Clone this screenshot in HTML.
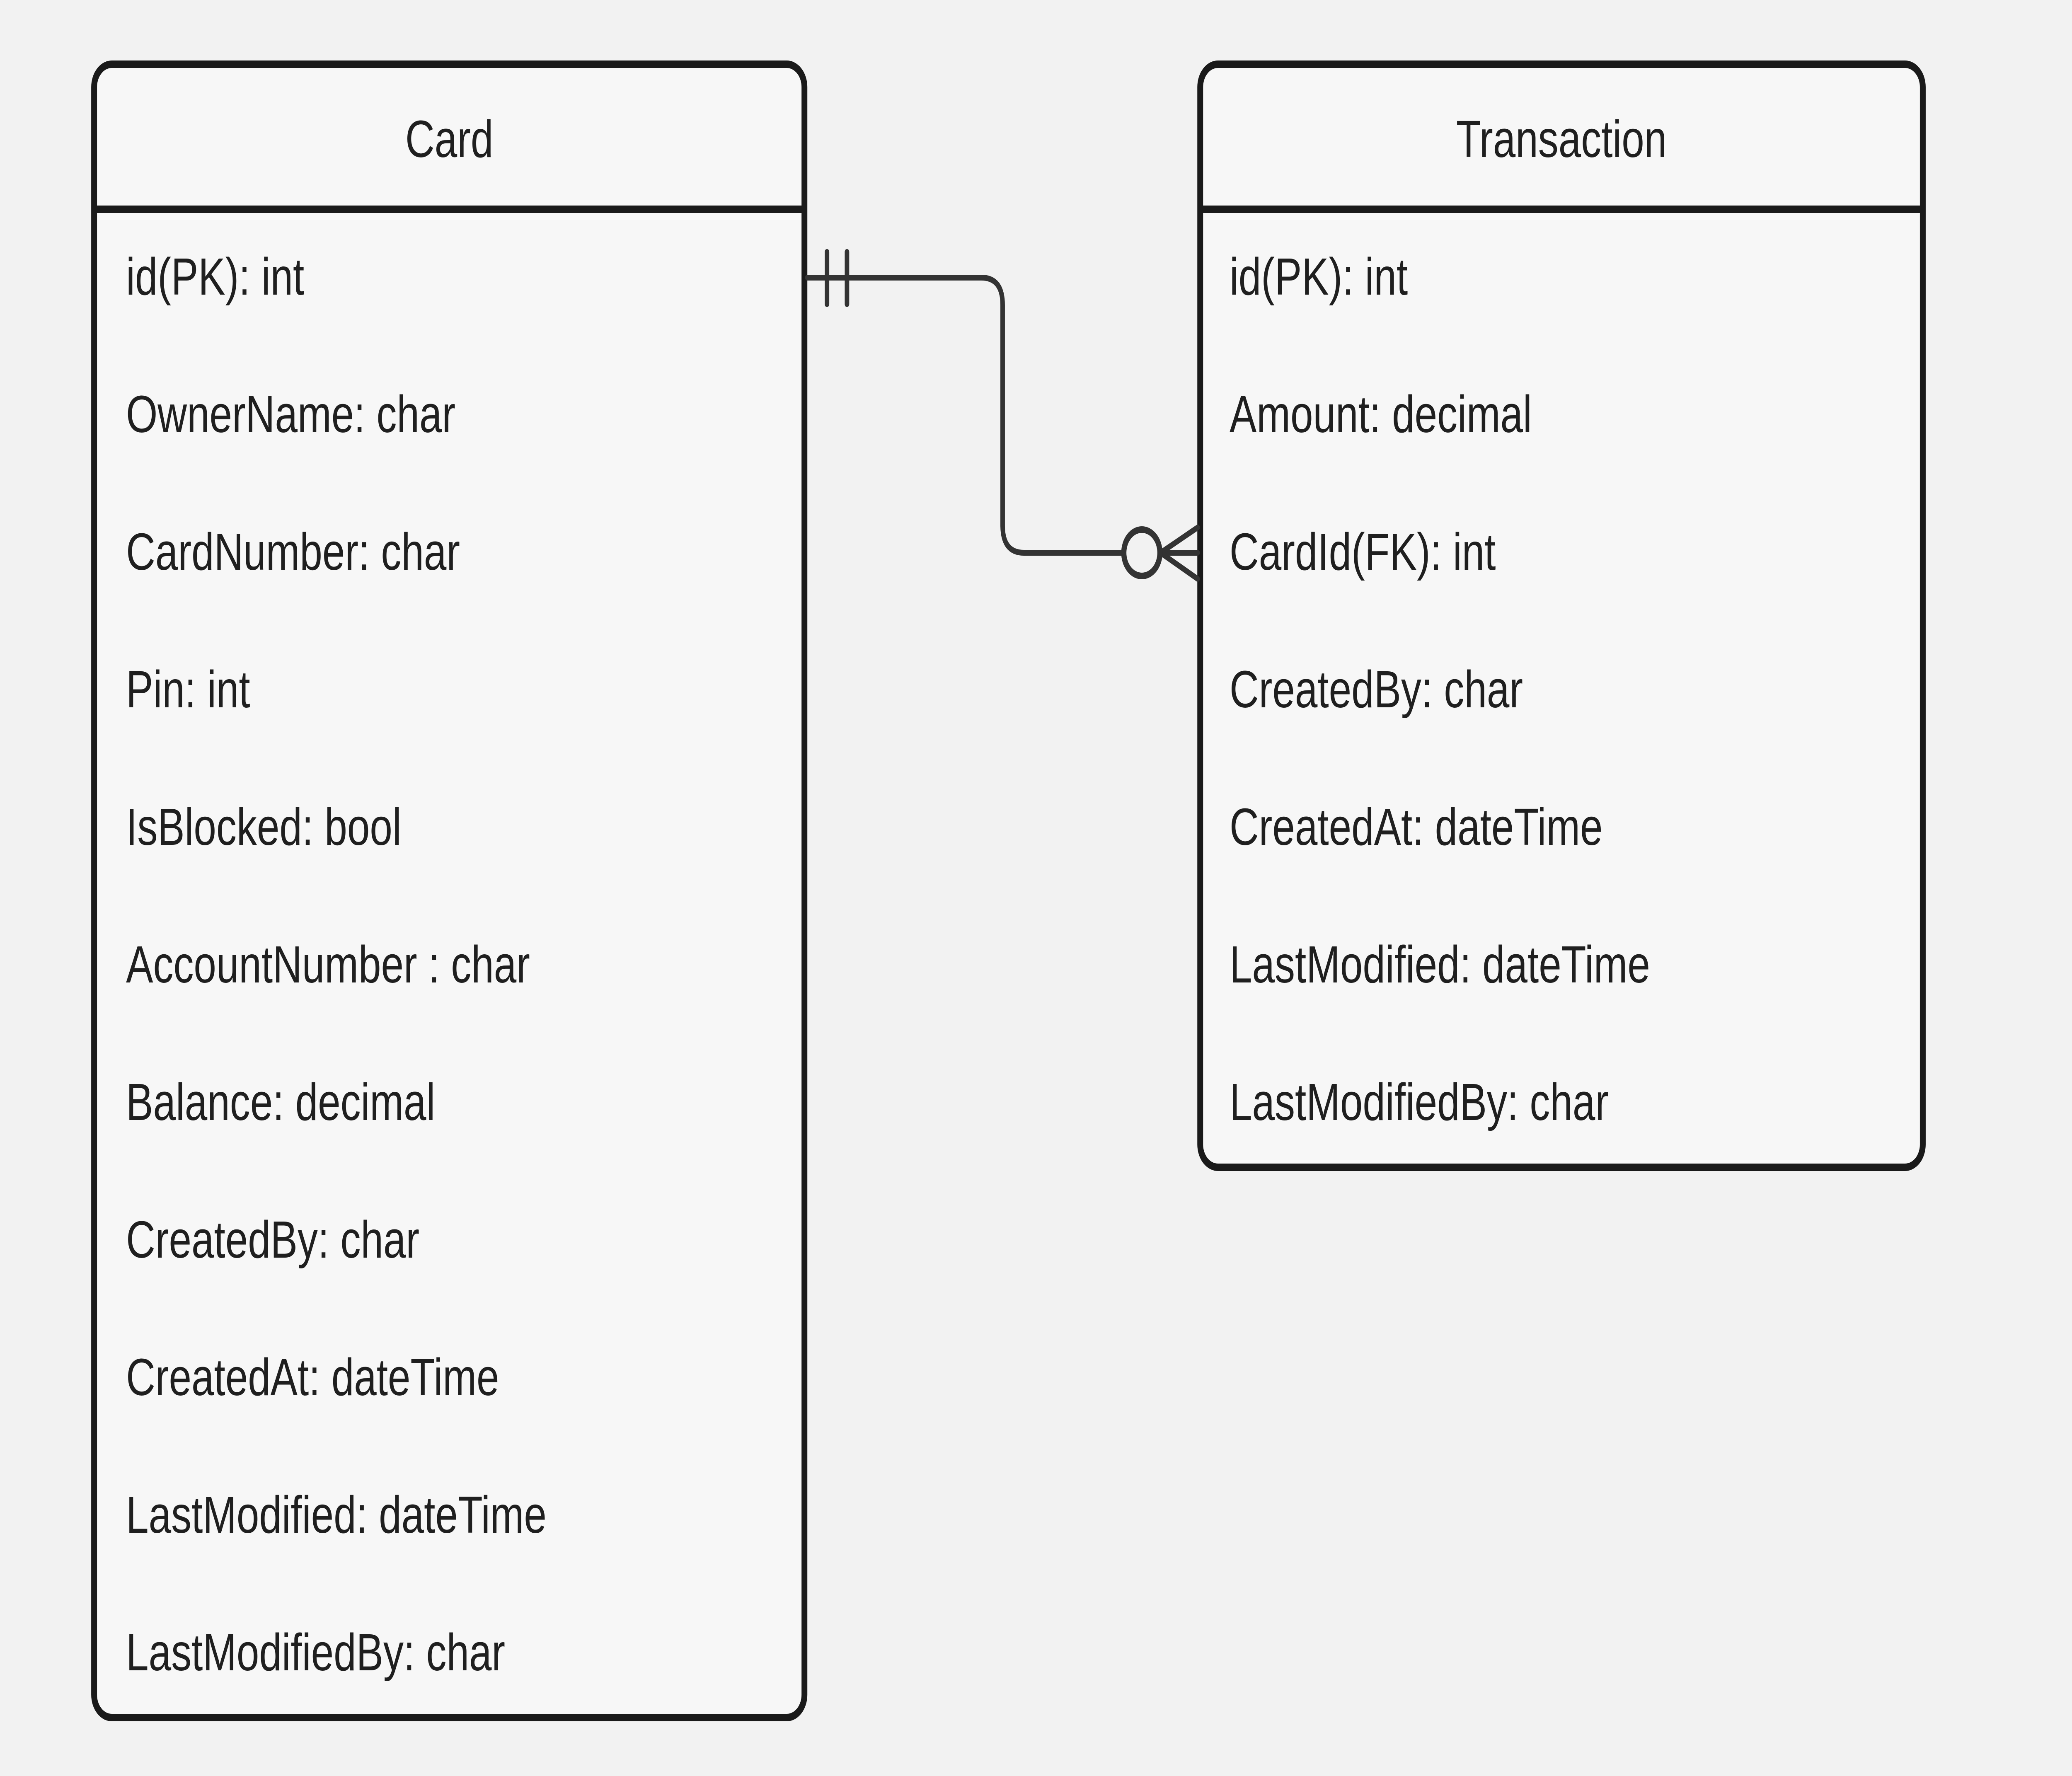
<!DOCTYPE html>
<html><head><meta charset="utf-8"><style>
html,body{margin:0;padding:0;background:#f2f2f2;width:100%;height:100%;overflow:hidden;}
svg{display:block;width:100vw;height:100vh;}
text{font-family:"Liberation Sans",sans-serif;font-size:126px;fill:#1f1f1f;}
</style></head><body>
<svg viewBox="0 0 6429 4286" preserveAspectRatio="none" xmlns="http://www.w3.org/2000/svg">
<rect width="6429" height="4286" fill="#f2f2f2"/>
<!-- Card -->
<rect x="292" y="155" width="2204" height="3990" rx="55" fill="#f7f7f7" stroke="#1a1a1a" stroke-width="18"/>
<line x1="292" y1="505" x2="2496" y2="505" stroke="#1a1a1a" stroke-width="18"/>
<text x="1394" y="379" text-anchor="middle">Card</text>
<g>
<text x="391" y="711">id(PK): int</text>
<text x="391" y="1043">OwnerName: char</text>
<text x="391" y="1375">CardNumber: char</text>
<text x="391" y="1707">Pin: int</text>
<text x="391" y="2039">IsBlocked: bool</text>
<text x="391" y="2371">AccountNumber : char</text>
<text x="391" y="2703">Balance: decimal</text>
<text x="391" y="3035">CreatedBy: char</text>
<text x="391" y="3367">CreatedAt: dateTime</text>
<text x="391" y="3699">LastModified: dateTime</text>
<text x="391" y="4031">LastModifiedBy: char</text>
</g>
<!-- Transaction -->
<rect x="3724" y="155" width="2242" height="2662" rx="55" fill="#f7f7f7" stroke="#1a1a1a" stroke-width="18"/>
<line x1="3724" y1="505" x2="5966" y2="505" stroke="#1a1a1a" stroke-width="18"/>
<text x="4845" y="379" text-anchor="middle">Transaction</text>
<g>
<text x="3815" y="711">id(PK): int</text>
<text x="3815" y="1043">Amount: decimal</text>
<text x="3815" y="1375">CardId(FK): int</text>
<text x="3815" y="1707">CreatedBy: char</text>
<text x="3815" y="2039">CreatedAt: dateTime</text>
<text x="3815" y="2371">LastModified: dateTime</text>
<text x="3815" y="2703">LastModifiedBy: char</text>
</g>
<!-- connector -->
<g stroke="#333" stroke-width="14" fill="none" stroke-linecap="round">
<path d="M2505 670 H3045 Q3111 670 3111 736 V1268 Q3111 1334 3177 1334 H3485"/>
<line x1="2566" y1="608" x2="2566" y2="734"/>
<line x1="2628" y1="608" x2="2628" y2="734"/>
<line x1="3601" y1="1334" x2="3716" y2="1334"/>
<line x1="3601" y1="1334" x2="3716" y2="1273"/>
<line x1="3601" y1="1334" x2="3716" y2="1397"/>
</g>
<circle cx="3543" cy="1334" r="56" fill="#f2f2f2" stroke="#333" stroke-width="16"/>
</svg>
</body></html>
